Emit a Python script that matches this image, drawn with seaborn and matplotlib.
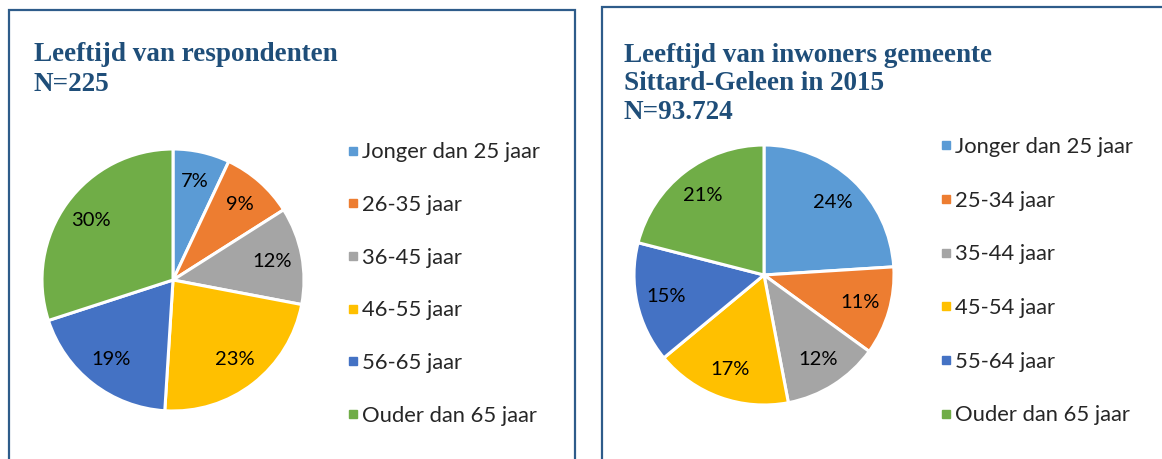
import matplotlib
matplotlib.use("Agg")
import matplotlib.pyplot as plt
from matplotlib.patches import Rectangle
from matplotlib.lines import Line2D
import seaborn as sns

# data
resp_labels = ["Jonger dan 25 jaar", "26-35 jaar", "36-45 jaar", "46-55 jaar", "56-65 jaar", "Ouder dan 65 jaar"]
resp_pct = [7, 9, 12, 23, 19, 30]
inw_labels = ["Jonger dan 25 jaar", "25-34 jaar", "35-44 jaar", "45-54 jaar", "55-64 jaar", "Ouder dan 65 jaar"]
inw_pct = [24, 11, 12, 17, 15, 21]
resp_title = ["Leeftijd van respondenten", "N=225"]
inw_title = ["Leeftijd van inwoners gemeente", "Sittard-Geleen in 2015", "N=93.724"]

sns.set_theme(style="white")
colors = sns.color_palette(["#5B9BD5", "#ED7D31", "#A5A5A5", "#FFC000", "#4472C4", "#70AD47"])
title_color = "#1F4E79"
border_color = "#2E5C8A"

W, H = 1162, 459
fig = plt.figure(figsize=(W / 100, H / 100), dpi=100)
fig.patch.set_facecolor("white")


def fx(px):
    return px / W


def fy(py):
    return 1 - py / H


# panel borders (bottom/right run off the picture)
fig.patches.append(Rectangle((fx(9), fy(480)), fx(575 - 9), (480 - 10) / H,
                             transform=fig.transFigure, fill=False,
                             edgecolor=border_color, linewidth=1.6))
fig.patches.append(Rectangle((fx(602), fy(480)), fx(1200 - 602), (480 - 7) / H,
                             transform=fig.transFigure, fill=False,
                             edgecolor=border_color, linewidth=1.6))

LEG_PT = 15.8


def draw_pie(cx, cy, r, values, labels, title, tx, baselines, lx, ly, spacing):
    ax = fig.add_axes([fx(cx - r), fy(cy + r), 2 * r / W, 2 * r / H])
    ax.pie(values, colors=colors, startangle=90, counterclock=False,
           autopct="%1.0f%%", pctdistance=0.77,
           wedgeprops=dict(edgecolor="white", linewidth=2.2),
           textprops=dict(fontsize=14.5, family="Lato", color="#000000"))
    ax.set_xlim(-1, 1)
    ax.set_ylim(-1, 1)
    ax.set_aspect("equal")
    ax.axis("off")

    for line, by in zip(title, baselines):
        fig.text(fx(tx), fy(by), line, ha="left", va="baseline", fontsize=19.5,
                 fontweight="bold", family="Liberation Serif", color=title_color)

    fs_px = LEG_PT * 100 / 72
    handles = [Line2D([], [], marker="s", linestyle="", color=c, markersize=5.8) for c in colors]
    fig.legend(handles, labels, loc="upper left", bbox_to_anchor=(fx(lx), fy(ly)),
               frameon=False, prop=dict(family="Lato", size=LEG_PT),
               handlelength=0.5, handletextpad=0.15,
               labelspacing=(spacing - 0.9 * fs_px) / fs_px,
               borderpad=0, borderaxespad=0)


draw_pie(173, 280, 131, resp_pct, resp_labels, resp_title, 34, [61, 91], 347.5, 142.5, 52.4)
draw_pie(764, 275, 130, inw_pct, inw_labels, inw_title, 624, [62, 90.5, 119], 940.5, 137, 53.4)

fig.savefig("out.png", dpi=100, facecolor="white")
